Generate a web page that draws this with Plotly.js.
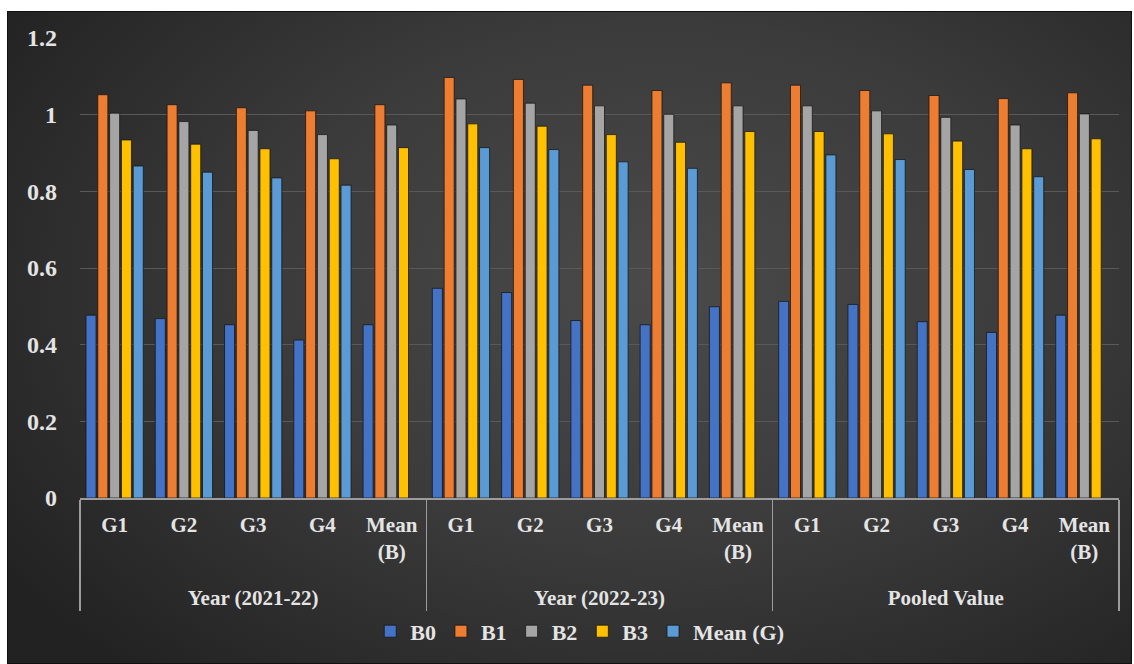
<!DOCTYPE html>
<html>
<head>
<meta charset="utf-8">
<script src="https://cdn.plot.ly/plotly-3.0.1.min.js"></script>
<style>
  html, body { margin: 0; padding: 0; background: #ffffff; }
  #frame {
    position: absolute; left: 7px; top: 11px; width: 1125px; height: 653px;
    box-sizing: border-box; border: 1px solid #111;
    background: radial-gradient(ellipse 70% 80% at 58% 42%, #4a4a4a 0%, #3b3b3b 50%, #222222 100%);
  }
  #chart { position: absolute; left: 0; top: 0; width: 1134px; height: 664px; }
</style>
</head>
<body>
<div id="frame"></div>
<div id="chart"></div>
<script>
// Period groups (outer axis level) and sub-categories (inner level)
const periods = ['Year (2021-22)', 'Year (2022-23)', 'Pooled Value'];
const subCats = ['G1', 'G2', 'G3', 'G4', 'Mean<br>(B)'];

// Series values, one entry per (period, sub-category) pair
const B0    = [0.477, 0.468, 0.452, 0.412, 0.452,  0.547, 0.536, 0.463, 0.452, 0.499,  0.513, 0.505, 0.460, 0.432, 0.477];
const B1    = [1.052, 1.026, 1.018, 1.010, 1.026,  1.097, 1.092, 1.077, 1.063, 1.083,  1.077, 1.063, 1.050, 1.042, 1.057];
const B2    = [1.004, 0.982, 0.959, 0.948, 0.973,  1.041, 1.030, 1.023, 1.001, 1.023,  1.023, 1.010, 0.993, 0.973, 1.002];
const B3    = [0.934, 0.923, 0.911, 0.885, 0.914,  0.976, 0.970, 0.948, 0.928, 0.956,  0.956, 0.950, 0.931, 0.911, 0.937];
const MeanG = [0.866, 0.850, 0.835, 0.816, null,   0.914, 0.909, 0.877, 0.860, null,   0.895, 0.883, 0.857, 0.838, null];

const seriesNames  = ['B0', 'B1', 'B2', 'B3', 'Mean (G)'];
const seriesValues = [B0, B1, B2, B3, MeanG];
const seriesColors = ['#4472C4', '#ED7D31', '#A5A5A5', '#FFC000', '#5B9BD5'];

// Outer labels start with a line break so they sit lower, below the two-line "Mean (B)" labels
const outer = [], inner = [];
periods.forEach(p => subCats.forEach(s => { outer.push('<br>' + p); inner.push(s); }));

const FONT = 'Liberation Serif, Times New Roman, serif';
const TXT = '#e4e4e4';

const traces = seriesNames.map((name, i) => ({
  type: 'bar',
  name: name,
  x: [outer, inner],
  y: seriesValues[i],
  marker: { color: seriesColors[i], line: { color: 'rgba(20,20,20,0.75)', width: 1 } },
  hoverinfo: 'x+y+name'
}));

const layout = {
  width: 1134, height: 664,
  paper_bgcolor: 'rgba(0,0,0,0)',
  plot_bgcolor: 'rgba(0,0,0,0)',
  margin: { l: 80, r: 15, t: 38, b: 166, pad: 0 },
  barmode: 'group',
  bargap: 0.148,
  bargroupgap: 0.15,
  font: { family: FONT, color: TXT, size: 21 },
  xaxis: {
    type: 'multicategory',
    showline: true, linecolor: '#9c9c9c', linewidth: 1.5,
    showdividers: true, dividercolor: '#9c9c9c', dividerwidth: 1.5,
    tickfont: { family: FONT, size: 21, color: TXT, weight: 'bold' },
    ticks: '', ticklabelstandoff: 7,
    showgrid: false
  },
  yaxis: {
    range: [0, 1.2],
    tickvals: [0, 0.2, 0.4, 0.6, 0.8, 1, 1.2],
    ticktext: ['0', '0.2', '0.4', '0.6', '0.8', '1', '1.2'],
    showgrid: true, gridcolor: '#595959', gridwidth: 1,
    zeroline: false, showline: false,
    ticks: '', ticklabelstandoff: 22,
    tickfont: { family: FONT, size: 24, color: TXT, weight: 'bold' }
  },
  showlegend: true,
  legend: {
    orientation: 'h',
    x: 0.481, xanchor: 'center',
    y: -0.29, yanchor: 'middle',
    font: { family: FONT, size: 22, color: TXT, weight: 'bold' },
    itemwidth: 30,
    bgcolor: 'rgba(0,0,0,0)'
  }
};

Plotly.newPlot('chart', traces, layout, { displayModeBar: false, staticPlot: true });
</script>
</body>
</html>
